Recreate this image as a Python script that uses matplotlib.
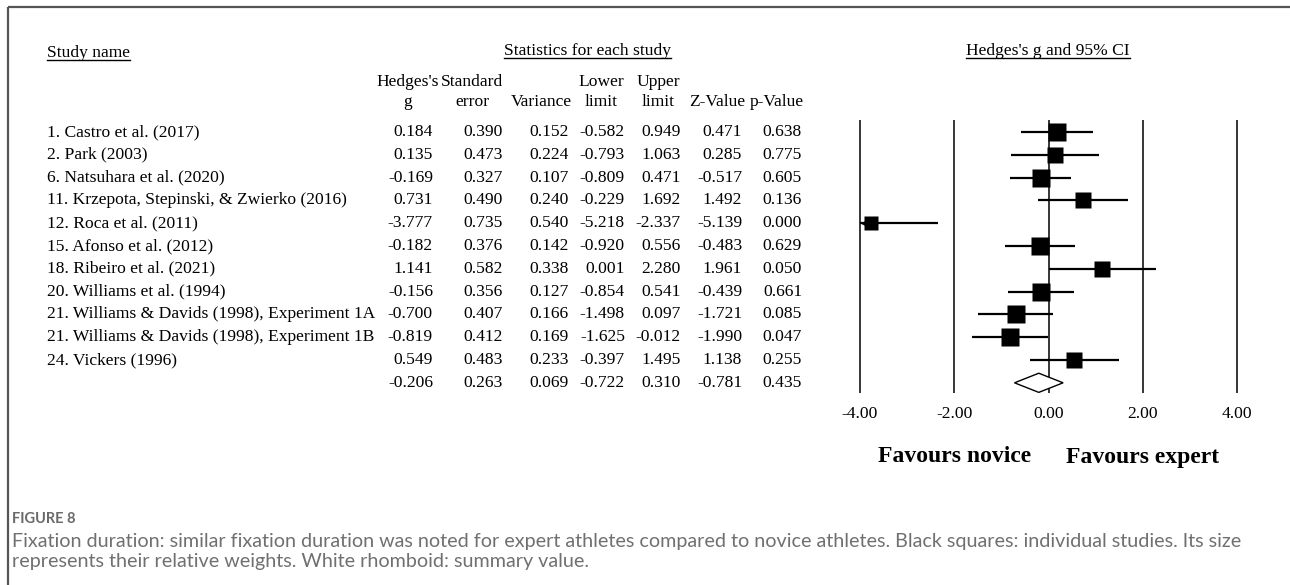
import numpy as np
import matplotlib.pyplot as plt

# ---- study-level statistics ----
studies = [
    "1. Castro et al. (2017)",
    "2. Park (2003)",
    "6. Natsuhara et al. (2020)",
    "11. Krzepota, Stepinski, & Zwierko (2016)",
    "12. Roca et al. (2011)",
    "15. Afonso et al. (2012)",
    "18. Ribeiro et al. (2021)",
    "20. Williams et al. (1994)",
    "21. Williams & Davids (1998), Experiment 1A",
    "21. Williams & Davids (1998), Experiment 1B",
    "24. Vickers (1996)",
]
hedges_g = [0.184, 0.135, -0.169, 0.731, -3.777, -0.182, 1.141, -0.156, -0.700, -0.819, 0.549]
std_err = [0.390, 0.473, 0.327, 0.490, 0.735, 0.376, 0.582, 0.356, 0.407, 0.412, 0.483]
variance = [0.152, 0.224, 0.107, 0.240, 0.540, 0.142, 0.338, 0.127, 0.166, 0.169, 0.233]
lower = [-0.582, -0.793, -0.809, -0.229, -5.218, -0.920, 0.001, -0.854, -1.498, -1.625, -0.397]
upper = [0.949, 1.063, 0.471, 1.692, -2.337, 0.556, 2.280, 0.541, 0.097, -0.012, 1.495]
z_value = [0.471, 0.285, -0.517, 1.492, -5.139, -0.483, 1.961, -0.439, -1.721, -1.990, 1.138]
p_value = [0.638, 0.775, 0.605, 0.136, 0.000, 0.629, 0.050, 0.661, 0.085, 0.047, 0.255]

# pooled (random effects) result
summary = [-0.206, 0.263, 0.069, -0.722, 0.310, -0.781, 0.435]
tau2 = 0.55  # between-study variance, used for the box weights

col_heads = ["Hedges's\ng", "Standard\nerror", "Variance", "Lower\nlimit",
             "Upper\nlimit", "Z-Value", "p-Value"]
axis_ticks = [-4, -2, 0, 2, 4]

# ---- layout (pixels) ----
W, H = 1290, 585
ROW0, ROWH = 132, 22.8
SERIF = "Liberation Serif"
FS = 12.6

fig = plt.figure(figsize=(W / 100, H / 100), dpi=100)
bg = fig.add_axes([0, 0, 1, 1])
bg.set_xlim(0, W)
bg.set_ylim(H, 0)
bg.axis("off")

# frame lines on top and left
bg.plot([8, W], [7, 7], color="#555555", lw=1.6, solid_capstyle="butt")
bg.plot([8, 8], [7, H], color="#555555", lw=1.6, solid_capstyle="butt")


def underlined(x, y, s, ha="left", gap=3):
    t = bg.text(x, y, s, ha=ha, va="baseline", family=SERIF, fontsize=FS)
    fig.canvas.draw()
    bb = t.get_window_extent()
    (x0, _), (x1, _) = bg.transData.inverted().transform([[bb.x0, bb.y0], [bb.x1, bb.y1]])
    bg.plot([x0, x1], [y + gap, y + gap], color="black", lw=1.0)
    return t


underlined(47, 57, "Study name")
underlined(587, 55, "Statistics for each study", ha="center")
underlined(1048, 55, "Hedges's g and 95% CI", ha="center")

# column headers and right edges of the numbers
head_x = [408, 472, 541, 601, 658, 717, 777]
num_right = [433, 503, 569, 625, 681, 742, 802]
for hx, h in zip(head_x, col_heads):
    lines = h.split("\n")
    if len(lines) == 2:
        bg.text(hx, 82, lines[0], ha="center", va="center", family=SERIF, fontsize=FS)
        bg.text(hx, 102, lines[1], ha="center", va="center", family=SERIF, fontsize=FS)
    else:
        bg.text(hx, 102, lines[0], ha="center", va="center", family=SERIF, fontsize=FS)

columns = [hedges_g, std_err, variance, lower, upper, z_value, p_value]
for i, name in enumerate(studies):
    y = ROW0 + i * ROWH
    bg.text(47, y, name, ha="left", va="center", family=SERIF, fontsize=FS)
    for xr, col in zip(num_right, columns):
        bg.text(xr, y, f"{col[i]:.3f}", ha="right", va="center", family=SERIF, fontsize=FS)

ys = ROW0 + len(studies) * ROWH
for xr, v in zip(num_right, summary):
    bg.text(xr, ys, f"{v:.3f}", ha="right", va="center", family=SERIF, fontsize=FS)

# ---- forest plot ----
PX_UNIT = (1237 - 860) / 8.0
ax_l, ax_r, ax_t, ax_b = 836, 1261, 120, 393
ax = fig.add_axes([ax_l / W, 1 - ax_b / H, (ax_r - ax_l) / W, (ax_b - ax_t) / H])
ax.set_xlim(-4 - (860 - ax_l) / PX_UNIT, 4 + (ax_r - 1237) / PX_UNIT)
ax.set_ylim((ax_b - ROW0) / ROWH, (ax_t - ROW0) / ROWH)
ax.patch.set_alpha(0)
for s in ax.spines.values():
    s.set_visible(False)
ax.set_yticks([])

for v in axis_ticks:
    ax.axvline(v, color="black", lw=1.1, zorder=1)

weights = 1.0 / (np.array(variance) + tau2)
box_px = 14.6 * np.sqrt(weights)
xmin = axis_ticks[0]
for i in range(len(studies)):
    lo = max(lower[i], xmin)
    ax.plot([lo, upper[i]], [i, i], color="black", lw=1.6, solid_capstyle="butt", zorder=2)
    if lower[i] < xmin:
        ax.plot(xmin + 0.06, i, marker="<", ms=5, color="black", mec="none", zorder=2)
    ax.plot(hedges_g[i], i, marker="s", ms=box_px[i] * 0.72, color="black",
            mec="none", zorder=3)

# pooled estimate diamond
k = len(studies)
g_s, lo_s, hi_s = summary[0], summary[3], summary[4]
ax.fill([lo_s, g_s, hi_s, g_s], [k, k - 0.42, k, k + 0.42], facecolor="white",
        edgecolor="black", lw=1.0, zorder=4)

ax.set_xticks(axis_ticks, [f"{v:.2f}" for v in axis_ticks])
ax.tick_params(axis="x", length=0, pad=9)
for lab in ax.get_xticklabels():
    lab.set_family(SERIF)
    lab.set_fontsize(FS)

bg.text(955, 457, "Favours novice", ha="center", va="center", family=SERIF,
        fontsize=17, fontweight="bold")
bg.text(1143, 457, "Favours expert", ha="center", va="center", family=SERIF,
        fontsize=17, fontweight="bold")

# ---- caption ----
CAP = "#707070"
CAP_FONT = "Lato"
bg.text(12, 519, "FIGURE 8", ha="left", va="center", family=CAP_FONT,
        fontsize=10.5, fontweight="bold", color="#6a6a6a")
cap1 = bg.text(12, 541, "Fixation duration: similar fixation duration was noted for expert athletes "
               "compared to novice athletes. Black squares: individual studies. Its size",
               ha="left", va="center", family=CAP_FONT, fontsize=12, color=CAP)
fig.canvas.draw()
w1 = cap1.get_window_extent().width
cap_fs = 12 * (1237 - 12) / w1
cap1.set_fontsize(cap_fs)
bg.text(12, 562, "represents their relative weights. White rhomboid: summary value.",
        ha="left", va="center", family=CAP_FONT, fontsize=cap_fs, color=CAP)

fig.savefig("out.png", dpi=100)
